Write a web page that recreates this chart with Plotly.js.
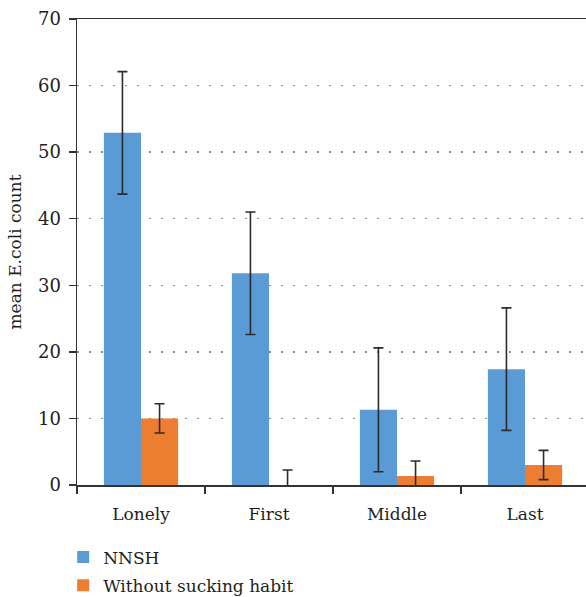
<!DOCTYPE html>
<html>
<head>
<meta charset="utf-8">
<script src="https://cdn.plot.ly/plotly-3.0.1.min.js"></script>
<style>
html,body{margin:0;padding:0;overflow:hidden;background:#fff;}
#chart{width:592px;height:630px;}
</style>
</head>
<body>
<div id="chart"></div>
<script>
const categories = ["Lonely", "First", "Middle", "Last"];
const seriesNames = ["NNSH", "Without sucking habit"];
const nnshValues = [52.9, 31.8, 11.3, 17.4];
const nnshErrors = [9.2, 9.2, 9.3, 9.2];
const withoutValues = [10.0, 0, 1.35, 3.0];
const withoutErrors = [2.2, 2.25, 2.25, 2.2];
const yTickValues = [0, 10, 20, 30, 40, 50, 60, 70];

const FONT = "DejaVu Serif";
const errStyle = {type: "data", visible: true, color: "#2b2b2b", thickness: 1.6, width: 5};

const traces = [
  {type: "bar", name: seriesNames[0], x: categories, y: nnshValues, legendgroup: "a",
   marker: {color: "#5B9BD5"},
   error_y: Object.assign({array: nnshErrors}, errStyle)},
  {type: "bar", name: seriesNames[1], x: categories, y: withoutValues, legendgroup: "b",
   marker: {color: "#ED7D31"},
   error_y: Object.assign({array: withoutErrors}, errStyle)}
];

const layout = {
  width: 592, height: 630,
  margin: {l: 77, r: 3, t: 19, b: 145},
  paper_bgcolor: "#fff", plot_bgcolor: "#fff",
  font: {family: FONT, size: 18, color: "#231f20"},
  barmode: "group", bargap: 0.42, bargroupgap: 0,
  showlegend: true,
  legend: {orientation: "v", x: -0.027, xanchor: "left", y: -0.117, yanchor: "top",
           traceorder: "grouped", tracegroupgap: 3,
           font: {family: FONT, size: 17, color: "#231f20"},
           bgcolor: "rgba(0,0,0,0)"},
  xaxis: {
    type: "category", showline: true, linecolor: "#333", linewidth: 1.5,
    mirror: true, ticks: "outside", ticklen: 7, tickcolor: "#333", tickwidth: 1.5,
    tickson: "boundaries", showgrid: false, zeroline: false, ticklabelstandoff: 13,
    tickfont: {family: FONT, size: 17, color: "#231f20"}, automargin: false
  },
  yaxis: {
    range: [0, 70], tickvals: yTickValues, ticktext: yTickValues.map(String),
    showline: true, linecolor: "#333", linewidth: 1.5,
    ticks: "outside", ticklen: 7, tickcolor: "#333", tickwidth: 1.5, ticklabelstandoff: 4,
    showgrid: true, gridcolor: "#888", gridwidth: 1.5, griddash: "2px,10px",
    zeroline: false, automargin: false,
    tickfont: {family: FONT, size: 18, color: "#231f20"},
    title: {text: "mean E.coli count", font: {family: FONT, size: 17, color: "#231f20"}, standoff: 12}
  }
};

Plotly.newPlot("chart", traces, layout, {displayModeBar: false, staticPlot: true});
</script>
</body>
</html>
